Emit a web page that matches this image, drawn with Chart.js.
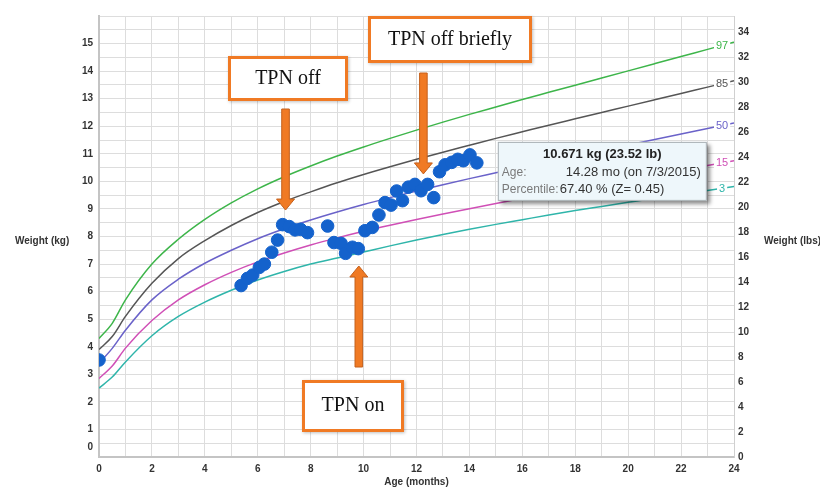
<!DOCTYPE html>
<html>
<head>
<meta charset="utf-8">
<script src="https://cdn.jsdelivr.net/npm/chart.js@4.4.1/dist/chart.umd.min.js"></script>
<style>
  html, body { margin: 0; padding: 0; background: #fff; }
  canvas { display: block; }
</style>
</head>
<body>
<canvas id="growth" width="820" height="490"></canvas>
<script>
// percentile curves (kg) by age in months
const ageMonths = [0, 0.5, 1, 2, 3, 4, 5, 6, 7, 8, 9, 10, 11, 12, 13, 14, 15, 16, 17, 18, 19, 20, 21, 22, 23, 24];
const p97 = [4.3, 4.85, 5.7, 7.0, 7.9, 8.62, 9.22, 9.73, 10.17, 10.56, 10.92, 11.25, 11.56, 11.86, 12.15, 12.43, 12.70, 12.97, 13.23, 13.49, 13.75, 14.01, 14.27, 14.53, 14.79, 15.05];
const p85 = [3.9, 4.37, 5.1, 6.3, 7.2, 7.85, 8.4, 8.87, 9.27, 9.62, 9.95, 10.25, 10.53, 10.80, 11.06, 11.31, 11.56, 11.80, 12.04, 12.27, 12.50, 12.73, 12.96, 13.19, 13.42, 13.65];
const p50 = [3.4, 3.94, 4.6, 5.7, 6.45, 7.03, 7.5, 7.92, 8.28, 8.6, 8.89, 9.16, 9.41, 9.65, 9.88, 10.10, 10.31, 10.52, 10.72, 10.92, 11.12, 11.32, 11.52, 11.72, 11.92, 12.12];
const p15 = [2.85, 3.3, 3.95, 4.95, 5.7, 6.25, 6.7, 7.08, 7.4, 7.69, 7.95, 8.19, 8.41, 8.62, 8.82, 9.01, 9.20, 9.38, 9.56, 9.73, 9.90, 10.07, 10.24, 10.41, 10.58, 10.75];
const p3 = [2.5, 2.9, 3.45, 4.4, 5.1, 5.62, 6.05, 6.42, 6.73, 7.0, 7.22, 7.44, 7.66, 7.87, 8.07, 8.26, 8.44, 8.61, 8.78, 8.94, 9.09, 9.24, 9.39, 9.53, 9.67, 9.81];

// measured visits
const visitAge = [0, 5.37, 5.61, 5.81, 6.06, 6.25, 6.53, 6.75, 6.94, 7.19, 7.41, 7.62, 7.88, 8.64, 8.88, 9.15, 9.32, 9.58, 9.80,
  10.05, 10.33, 10.58, 10.81, 11.04, 11.25, 11.47, 11.69, 11.94, 12.17, 12.42, 12.65, 12.87, 13.08, 13.33, 13.56, 13.77, 14.02, 14.28];
const visitKg = [3.52, 6.22, 6.48, 6.60, 6.88, 7.00, 7.43, 7.87, 8.43, 8.36, 8.24, 8.26, 8.14, 8.38, 7.78, 7.75, 7.39, 7.61, 7.56,
  8.21, 8.33, 8.78, 9.23, 9.14, 9.65, 9.30, 9.79, 9.89, 9.66, 9.89, 9.41, 10.35, 10.60, 10.69, 10.80, 10.75, 10.96, 10.671];

const curveNames = ['97', '85', '50', '15', '3'];
const curveValues = [p97, p85, p50, p15, p3];
const curveColors = ['#3db54a', '#555555', '#6a62c9', '#d04fb6', '#2fb5aa'];

// hover box text for the last visit
const hoverTitle = '10.671 kg (23.52 lb)';
const hoverAge = '14.28 mo (on 7/3/2015)';
const hoverPct = '67.40 % (Z= 0.45)';

const KG_TO_LB = 2.20462;
const FONT = '"Liberation Sans", Arial, sans-serif';

// annotation call-outs: arrow tip in data units, box in pixels
const notes = [
  { text: 'TPN off', age: 7.05, kg: 8.96, tail: 109, box: [228, 56, 120, 45] },
  { text: 'TPN off briefly', age: 12.26, kg: 10.27, tail: 73, box: [368, 16, 164, 47] },
  { text: 'TPN on', age: 9.82, kg: 6.93, tail: 367, box: [302, 380, 102, 52] }
];

function pts(xs, ys) { return xs.map((x, i) => ({ x: x, y: ys[i] })); }

function interp(xs, ys, x) {
  for (let i = 1; i < xs.length; i++) {
    if (x <= xs[i]) {
      const t = (x - xs[i - 1]) / (xs[i] - xs[i - 1]);
      return ys[i - 1] + t * (ys[i] - ys[i - 1]);
    }
  }
  return ys[ys.length - 1];
}

const datasets = [{
  label: 'visits',
  data: pts(visitAge, visitKg),
  backgroundColor: '#1462cc',
  borderColor: '#1462cc',
  pointRadius: 6.3,
  showLine: false,
  order: 0
}];
curveValues.forEach((vals, i) => {
  datasets.push({
    label: curveNames[i],
    data: pts(ageMonths, vals),
    borderColor: curveColors[i],
    borderWidth: 1.5,
    pointRadius: 0,
    showLine: true,
    cubicInterpolationMode: 'monotone',
    order: 1
  });
});

const overlay = {
  id: 'overlay',
  afterDatasetsDraw(chart) {
    const ctx = chart.ctx;
    const xs = chart.scales.x, ys = chart.scales.y;

    // percentile labels near right edge
    ctx.save();
    ctx.font = '11px ' + FONT;
    ctx.textAlign = 'center';
    ctx.textBaseline = 'middle';
    curveValues.forEach((vals, i) => {
      const px = xs.getPixelForValue(23.55);
      const py = ys.getPixelForValue(interp(ageMonths, vals, 23.55));
      const w = ctx.measureText(curveNames[i]).width + 4;
      ctx.fillStyle = '#fff';
      ctx.fillRect(px - w / 2, py - 6, w, 12);
      ctx.fillStyle = curveColors[i];
      ctx.fillText(curveNames[i], px, py + 0.5);
    });
    ctx.restore();

    // hover box for the last visit
    const li = visitAge.length - 1;
    const bx = xs.getPixelForValue(visitAge[li]) + 21;
    const by = ys.getPixelForValue(visitKg[li]) - 21;
    const bw = 209, bh = 59;
    ctx.save();
    ctx.shadowColor = 'rgba(0,0,0,0.45)';
    ctx.shadowBlur = 4;
    ctx.shadowOffsetX = 3;
    ctx.shadowOffsetY = 3;
    ctx.fillStyle = '#eef7fb';
    ctx.fillRect(bx, by, bw, bh);
    ctx.shadowColor = 'transparent';
    ctx.strokeStyle = '#a8b0b4';
    ctx.lineWidth = 1;
    ctx.strokeRect(bx + 0.5, by + 0.5, bw - 1, bh - 1);
    ctx.textBaseline = 'middle';
    ctx.fillStyle = '#222';
    ctx.font = 'bold 13px ' + FONT;
    ctx.textAlign = 'center';
    ctx.fillText(hoverTitle, bx + bw / 2, by + 13);
    ctx.font = '12px ' + FONT;
    ctx.textAlign = 'left';
    ctx.fillStyle = '#7a7a7a';
    ctx.fillText('Age:', bx + 4, by + 31);
    ctx.fillText('Percentile:', bx + 4, by + 48);
    ctx.font = '13px ' + FONT;
    ctx.fillStyle = '#333';
    ctx.fillText(hoverPct, bx + 62, by + 48);
    ctx.textAlign = 'right';
    ctx.fillText(hoverAge, bx + 203, by + 31);
    ctx.restore();

    // arrows and boxes
    notes.forEach(n => {
      const ax = xs.getPixelForValue(n.age);
      const tip = ys.getPixelForValue(n.kg);
      const dir = n.tail > tip ? -1 : 1;
      const head = 11, hw = 9, sw = 3.8;
      const base = tip - dir * head;
      ctx.save();
      ctx.beginPath();
      ctx.moveTo(ax - sw, n.tail);
      ctx.lineTo(ax - sw, base);
      ctx.lineTo(ax - hw, base);
      ctx.lineTo(ax, tip);
      ctx.lineTo(ax + hw, base);
      ctx.lineTo(ax + sw, base);
      ctx.lineTo(ax + sw, n.tail);
      ctx.closePath();
      ctx.fillStyle = '#f07a24';
      ctx.fill();
      ctx.strokeStyle = '#c4601c';
      ctx.lineWidth = 1;
      ctx.stroke();

      const [x0, y0, w, h] = n.box;
      ctx.shadowColor = 'rgba(0,0,0,0.25)';
      ctx.shadowBlur = 3;
      ctx.shadowOffsetX = 1;
      ctx.shadowOffsetY = 1;
      ctx.fillStyle = '#fff';
      ctx.fillRect(x0, y0, w, h);
      ctx.shadowColor = 'transparent';
      ctx.strokeStyle = '#f07a24';
      ctx.lineWidth = 3;
      ctx.strokeRect(x0 + 1.5, y0 + 1.5, w - 3, h - 3);
      ctx.fillStyle = '#111';
      ctx.font = '20px "Liberation Serif", "Times New Roman", serif';
      ctx.textAlign = 'center';
      ctx.textBaseline = 'middle';
      ctx.fillText(n.text, x0 + w / 2, y0 + h / 2);
      ctx.restore();
    });
  },
  afterDraw(chart) {
    const ctx = chart.ctx;
    const area = chart.chartArea;
    const mid = (area.top + area.bottom) / 2 + 5;
    ctx.save();
    ctx.font = 'bold 10px ' + FONT;
    ctx.fillStyle = '#333';
    ctx.textBaseline = 'middle';
    ctx.textAlign = 'left';
    ctx.fillText('Weight (kg)', 15, mid);
    ctx.fillText('Weight (lbs)', 764, mid);
    // lifted zero on the kg axis
    ctx.textAlign = 'right';
    ctx.fillText('0', area.left - 6, area.bottom - 10);
    ctx.restore();
  }
};

const tickFont = { family: FONT, size: 10, weight: 'bold' };

new Chart(document.getElementById('growth'), {
  type: 'scatter',
  data: { datasets: datasets },
  options: {
    responsive: false,
    animation: false,
    events: [],
    layout: { padding: { top: 16, left: 0, right: 0, bottom: 0 } },
    plugins: { legend: { display: false }, tooltip: { enabled: false } },
    scales: {
      x: {
        type: 'linear',
        min: 0,
        max: 24,
        ticks: {
          stepSize: 1,
          autoSkip: false,
          maxRotation: 0,
          padding: 6,
          color: '#333',
          font: tickFont,
          callback: v => (v % 2 === 0 ? v : '')
        },
        grid: { color: '#dddddd', drawTicks: false },
        border: { color: '#c4c4c4', width: 2 },
        title: { display: true, text: 'Age (months)', color: '#333', font: tickFont, padding: { top: 4, bottom: 2 } },
        afterFit: s => { s.height = 33; }
      },
      y: {
        position: 'left',
        min: 0,
        max: 16,
        ticks: {
          stepSize: 0.5,
          autoSkip: false,
          padding: 6,
          color: '#333',
          font: tickFont,
          callback: v => (v % 1 === 0 && v > 0 && v < 16 ? v : '')
        },
        grid: { color: '#dddddd', drawTicks: false },
        border: { color: '#c4c4c4', width: 2 },
        afterFit: s => { s.width = 99; }
      },
      lbs: {
        position: 'right',
        min: 0,
        max: 16 * KG_TO_LB,
        ticks: {
          stepSize: 2,
          autoSkip: false,
          padding: 4,
          color: '#333',
          font: tickFont,
          callback: v => (Math.abs(v % 2) < 1e-9 ? v : '')
        },
        grid: { drawOnChartArea: false, drawTicks: false },
        border: { color: '#d0d0d0', width: 1 },
        afterFit: s => { s.width = 86; }
      }
    }
  },
  plugins: [overlay]
});
</script>
</body>
</html>
